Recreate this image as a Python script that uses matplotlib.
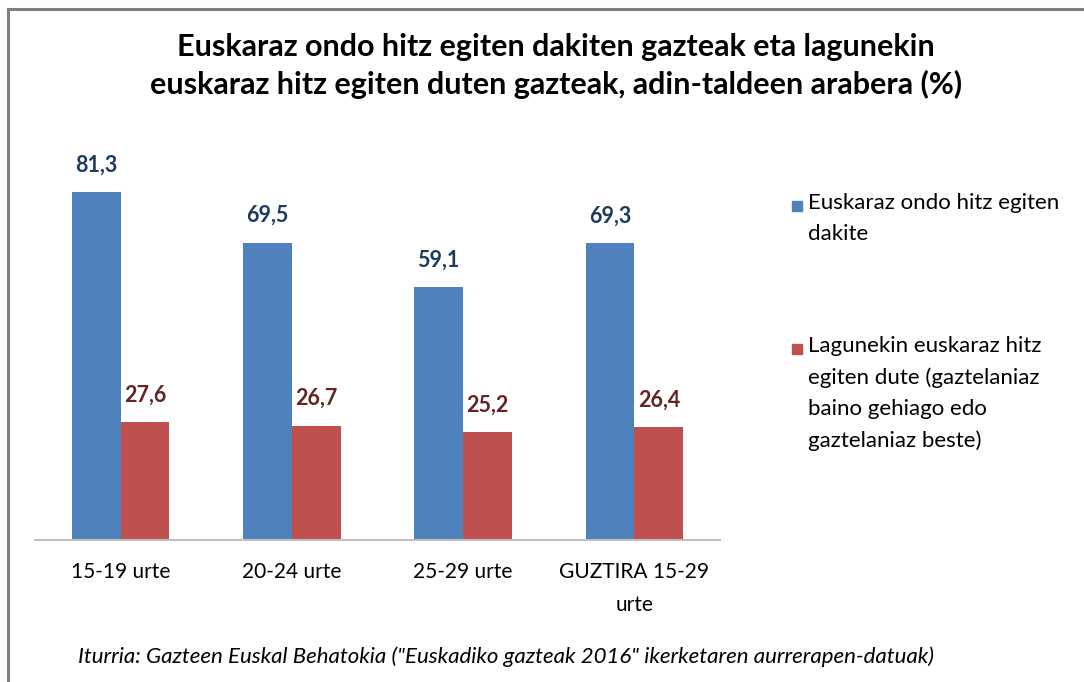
import matplotlib
matplotlib.use("Agg")
import matplotlib.pyplot as plt
import numpy as np
from matplotlib.lines import Line2D
from matplotlib.patches import Rectangle

# data
categories = ["15-19 urte", "20-24 urte", "25-29 urte", "GUZTIRA 15-29\nurte"]
series_names = [
    "Euskaraz ondo hitz egiten\ndakite",
    "Lagunekin euskaraz hitz\negiten dute (gaztelaniaz\nbaino gehiago edo\ngaztelaniaz beste)",
]
ondo = [81.3, 69.5, 59.1, 69.3]
lagunekin = [27.6, 26.7, 25.2, 26.4]

title = ("Euskaraz ondo hitz egiten dakiten gazteak eta lagunekin\n"
         "euskaraz hitz egiten duten gazteak, adin-taldeen arabera (%)")
source = 'Iturria: Gazteen Euskal Behatokia ("Euskadiko gazteak 2016" ikerketaren aurrerapen-datuak)'

bar_colors = ["#4F81BD", "#C0504D"]
label_colors = ["#1F3A5F", "#632523"]
FONT = "Lato"

fig = plt.figure(figsize=(10.84, 6.82), dpi=100)
ax = fig.add_axes([35 / 1084, 1 - 540 / 682, 685 / 1084, 410 / 682])

x = np.arange(len(categories))
w = 0.285
for i, vals in enumerate([ondo, lagunekin]):
    offs = (i - 0.5) * w
    bars = ax.bar(x + offs, vals, width=w, color=bar_colors[i], zorder=2)
    for b, v in zip(bars, vals):
        ax.annotate(f"{v:.1f}".replace(".", ","),
                    (b.get_x() + b.get_width() / 2, v),
                    xytext=(0, 19.5), textcoords="offset points",
                    ha="center", va="center", fontsize=15.5, fontweight="bold",
                    color=label_colors[i], family=FONT)

ax.set_xlim(-0.5, len(categories) - 0.5)
ax.set_ylim(0, 95.8)
ax.set_yticks([])
ax.set_xticks(x)
ax.set_xticklabels(categories, fontsize=15, family=FONT, linespacing=1.8)
ax.tick_params(axis="x", length=0, pad=16)
for s in ["top", "right", "left"]:
    ax.spines[s].set_visible(False)
ax.spines["bottom"].set_color("#BFBFBF")
ax.spines["bottom"].set_linewidth(1.5)

fig.text(556 / 1084, 1 - 66 / 682, title, ha="center", va="center",
         fontsize=22, fontweight="bold", family=FONT, linespacing=1.36)

# legend, drawn by hand so the swatch sits on the first line
leg_y = [206, 349]
for name, col, yy in zip(series_names, bar_colors, leg_y):
    fig.patches.append(Rectangle((792 / 1084, 1 - (yy + 5) / 682), 10 / 1084, 10 / 682,
                                 transform=fig.transFigure, color=col))
    fig.text(808 / 1084, 1 - (yy - 13) / 682, name, ha="left", va="top",
             fontsize=16, family=FONT, linespacing=1.69)

fig.text(78 / 1084, 1 - 657 / 682, source, ha="left", va="center",
         fontsize=16, style="italic", family=FONT)

# grey frame (only top and left edges are in view)
fig.lines.append(Line2D([8 / 1084, 8 / 1084], [0, 1 - 9 / 682], transform=fig.transFigure,
                        color="#808080", lw=2.2))
fig.lines.append(Line2D([8 / 1084, 1], [1 - 9 / 682, 1 - 9 / 682], transform=fig.transFigure,
                        color="#808080", lw=2.2))

fig.savefig("out.png", dpi=100)
